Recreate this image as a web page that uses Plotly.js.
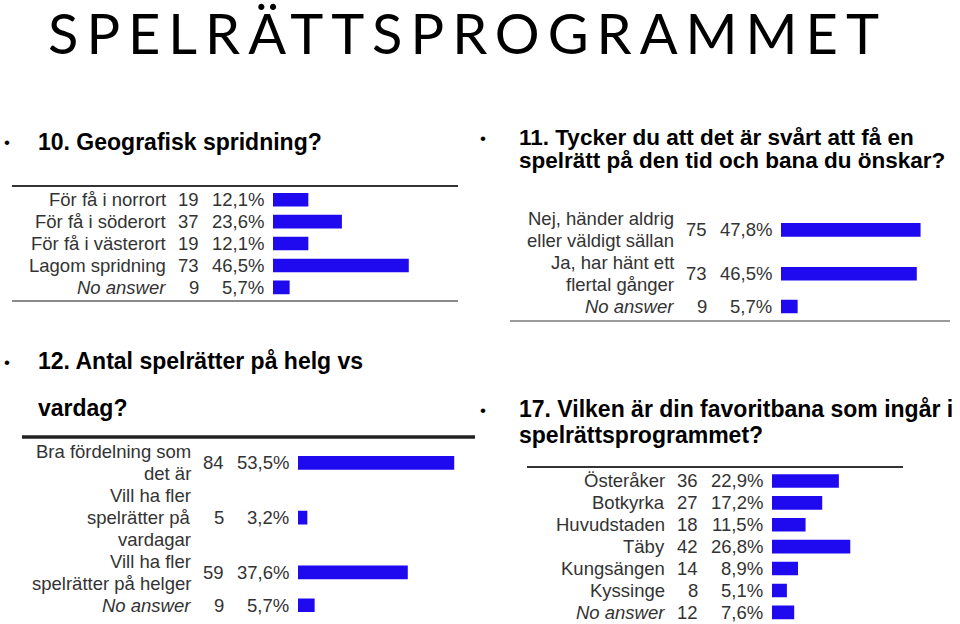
<!DOCTYPE html>
<html>
<head>
<meta charset="utf-8">
<script src="https://cdn.plot.ly/plotly-3.0.1.min.js"></script>
<style>
html,body{margin:0;padding:0;background:#fff;}
#chart{width:960px;height:624px;}
#chart .gtitle{letter-spacing:8px;}
</style>
</head>
<body>
<div id="chart"></div>
<script>
// ---- Data ----
const q10Labels = ['För få i norrort', 'För få i söderort', 'För få i västerort', 'Lagom spridning', '<i>No answer</i>'];
const q10Counts = [19, 37, 19, 73, 9];
const q10Pct = [12.1, 23.6, 12.1, 46.5, 5.7];

const q11Labels = ['Nej, händer aldrig<br>eller väldigt sällan', 'Ja, har hänt ett<br>flertal gånger', '<i>No answer</i>'];
const q11Counts = [75, 73, 9];
const q11Pct = [47.8, 46.5, 5.7];

const q12Labels = ['Bra fördelning som<br>det är', 'Vill ha fler<br>spelrätter på<br>vardagar', 'Vill ha fler<br>spelrätter på helger', '<i>No answer</i>'];
const q12Counts = [84, 5, 59, 9];
const q12Pct = [53.5, 3.2, 37.6, 5.7];

const q17Labels = ['Österåker', 'Botkyrka', 'Huvudstaden', 'Täby', 'Kungsängen', 'Kyssinge', '<i>No answer</i>'];
const q17Counts = [36, 27, 18, 42, 14, 8, 12];
const q17Pct = [22.9, 17.2, 11.5, 26.8, 8.9, 5.1, 7.6];

const mainTitle = 'SPELRÄTTSPROGRAMMET';
const q10Heading = ['10. Geografisk spridning?'];
const q11Heading = ['11. Tycker du att det är svårt att få en', 'spelrätt på den tid och bana du önskar?'];
const q12Heading = ['12. Antal spelrätter på helg vs', 'vardag?'];
const q17Heading = ['17. Vilken är din favoritbana som ingår i', 'spelrättsprogrammet?'];

// ---- Layout helpers ----
const W = 960, H = 624;
const PX_PER_PCT = 2.92;
const BAR_COLOR = '#1f0af0';
const TXT = '#333333';
const FONT = 'Liberation Sans, Arial, sans-serif';
const FS = 18.5;

const panels = [
  {labels: q10Labels, counts: q10Counts, pct: q10Pct, left: 273, right: 458, top: 188.8, bottom: 298.3},
  {labels: q11Labels, counts: q11Counts, pct: q11Pct, left: 781, right: 950, top: 208, bottom: 317.5},
  {labels: q12Labels, counts: q12Counts, pct: q12Pct, left: 298, right: 475, top: 441, bottom: 616.2},
  {labels: q17Labels, counts: q17Counts, pct: q17Pct, left: 772, right: 903, top: 470, bottom: 623.3}
];

const data = [];
const layout = {
  width: W, height: H,
  margin: {l: 0, r: 0, t: 0, b: 0},
  paper_bgcolor: '#ffffff', plot_bgcolor: 'rgba(0,0,0,0)',
  showlegend: false,
  title: {
    text: mainTitle,
    x: 48 / W, xanchor: 'left', xref: 'paper',
    y: 1 - 34 / H, yanchor: 'middle', yref: 'container',
    font: {family: 'Lato, Noto Sans, sans-serif', size: 56, color: '#000', weight: 400}
  },
  annotations: [],
  shapes: []
};

panels.forEach((p, i) => {
  const n = i + 1;
  const xa = 'x' + (n === 1 ? '' : n), ya = 'y' + (n === 1 ? '' : n);
  const split = p.labels.map(l => l.split('<br>'));
  const lines = split.map(s => s.length);
  const total = lines.reduce((a, b) => a + b, 0);
  const starts = [], centers = [];
  let acc = 0;
  lines.forEach(l => { starts.push(acc); centers.push(acc + l / 2); acc += l; });

  data.push({
    type: 'bar', orientation: 'h',
    x: p.pct, y: centers,
    width: 0.62,
    marker: {color: BAR_COLOR, line: {width: 0}},
    xaxis: xa, yaxis: ya,
    hoverinfo: 'skip'
  });

  layout['xaxis' + (n === 1 ? '' : n)] = {
    domain: [p.left / W, p.right / W],
    range: [0, (p.right - p.left) / PX_PER_PCT],
    showgrid: false, zeroline: false, showticklabels: false, showline: false, ticks: '',
    fixedrange: true, anchor: ya
  };
  layout['yaxis' + (n === 1 ? '' : n)] = {
    domain: [1 - p.bottom / H, 1 - p.top / H],
    range: [total, 0],
    showgrid: false, zeroline: false, showticklabels: false, showline: false, ticks: '',
    fixedrange: true, anchor: xa
  };

  split.forEach((parts, k) => {
    const base = {xref: xa, yref: ya, x: 0, xanchor: 'right', yanchor: 'middle',
      showarrow: false, align: 'right', font: {family: FONT, size: FS, color: TXT}};
    parts.forEach((t, j) => {
      layout.annotations.push(Object.assign({}, base, {text: t, y: starts[k] + j + 0.5, xshift: -105}));
    });
    layout.annotations.push(Object.assign({}, base, {text: String(p.counts[k]), y: centers[k], xshift: -72}));
    layout.annotations.push(Object.assign({}, base, {text: p.pct[k].toFixed(1).replace('.', ',') + '%', y: centers[k], xshift: -7}));
  });
});

// Section headings (bullets + bold text)
function heading(linesArr, x, ys, bulletX, fs) {
  layout.annotations.push({xref: 'paper', yref: 'paper', x: bulletX / W, y: 1 - (ys[0] + 1) / H,
    xanchor: 'center', yanchor: 'middle', showarrow: false, text: '•',
    font: {family: FONT, size: 17, color: '#000'}});
  linesArr.forEach((t, k) => {
    layout.annotations.push({xref: 'paper', yref: 'paper', x: x / W, y: 1 - ys[k] / H,
      xanchor: 'left', yanchor: 'middle', showarrow: false, text: '<b>' + t + '</b>',
      font: {family: FONT, size: fs, color: '#000'}});
  });
}
heading(q10Heading, 36, [142], 7, 23);
heading(q11Heading, 517, [137, 161], 483, 22.5);
heading(q12Heading, 36, [361, 408], 7, 23);
heading(q17Heading, 517, [409, 435], 483, 23);

// Table rules
function rule(x0, x1, y, color, w) {
  layout.shapes.push({type: 'line', xref: 'paper', yref: 'paper',
    x0: x0 / W, x1: x1 / W, y0: 1 - y / H, y1: 1 - y / H, line: {color: color, width: w}});
}
rule(12, 458, 186, '#333333', 2);
rule(12, 458, 301, '#8a8a8a', 2);
rule(510, 950, 321, '#7a7a7a', 1.5);
rule(22, 475, 437, '#222222', 3.5);
rule(527, 903, 467, '#333333', 2);

Plotly.newPlot('chart', data, layout, {displayModeBar: false, staticPlot: true});
</script>
</body>
</html>
